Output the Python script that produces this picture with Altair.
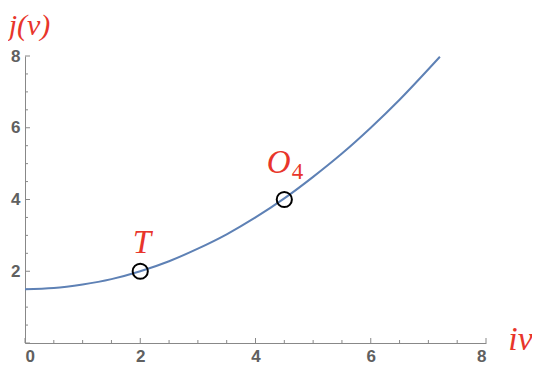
import altair as alt
import pandas as pd

# curve values
nu = [0, 0.5, 1, 1.5, 2, 2.5, 3, 3.5, 4, 4.5, 5, 5.5, 6, 6.5, 7, 7.2]
jv = [1.5, 1.53, 1.63, 1.78, 2.0, 2.28, 2.63, 3.03, 3.5, 4.03, 4.63, 5.28, 6.0, 6.78, 7.63, 7.98]

# marked points
pt_x = [2, 4.5]
pt_y = [2, 4]

# annotation labels
lab_text = ["T", "O"]
lab_x = [2.03, 4.4]
lab_y = [2.52, 4.75]
sub_text = ["4"]
sub_x = [4.73]
sub_y = [4.57]

major = [0, 2, 4, 6, 8]
minor = [0.5, 1, 1.5, 2.5, 3, 3.5, 4.5, 5, 5.5, 6.5, 7, 7.5]

W, H = 461, 287
RED = "#e8352b"
GRAY = "#888888"

xs = alt.Scale(domain=[0, 8], nice=False)
ys = alt.Scale(domain=[0, 8], nice=False)

curve_df = pd.DataFrame({"x": nu, "y": jv})
pts_df = pd.DataFrame({"x": pt_x, "y": pt_y})
lab_df = pd.DataFrame({"t": lab_text, "x": lab_x, "y": lab_y})
sub_df = pd.DataFrame({"t": sub_text, "x": sub_x, "y": sub_y})
maj_df = pd.DataFrame({"v": major})
min_df = pd.DataFrame({"v": minor})

xaxis = alt.Axis(values=major, format="d", ticks=False, grid=False, domainColor=GRAY,
                 labelColor="#606060", labelFont="Liberation Sans", labelFontWeight="bold",
                 labelFontSize=17, labelPadding=5, title="iν", titleFont="Liberation Serif",
                 titleFontStyle="italic", titleFontWeight="normal", titleFontSize=34,
                 titleColor=RED, titleX=W + 34, titleY=-4, titleAlign="center",
                 titleBaseline="middle", titleAngle=0)
yaxis = alt.Axis(values=[2, 4, 6, 8], format="d", ticks=False, grid=False, domainColor=GRAY,
                 labelColor="#606060", labelFont="Liberation Sans", labelFontWeight="bold",
                 labelFontSize=17, labelPadding=5, title="j(ν)", titleFont="Liberation Serif",
                 titleFontStyle="italic", titleFontWeight="normal", titleFontSize=30,
                 titleColor=RED, titleX=4, titleY=-31, titleAlign="center",
                 titleBaseline="middle", titleAngle=0)

curve = alt.Chart(curve_df).mark_line(color="#5e81b5", strokeWidth=2, interpolate="monotone").encode(
    x=alt.X("x:Q", scale=xs, axis=xaxis),
    y=alt.Y("y:Q", scale=ys, axis=yaxis),
)

pts = alt.Chart(pts_df).mark_point(shape="circle", size=230, filled=False, color="black",
                                   strokeWidth=2, opacity=1).encode(
    x=alt.X("x:Q", scale=xs), y=alt.Y("y:Q", scale=ys))

labs = alt.Chart(lab_df).mark_text(font="Liberation Serif", fontStyle="italic", fontSize=33,
                                   color=RED, baseline="alphabetic", align="center").encode(
    x=alt.X("x:Q", scale=xs), y=alt.Y("y:Q", scale=ys), text="t:N")

subs = alt.Chart(sub_df).mark_text(font="Liberation Serif", fontSize=23,
                                   color=RED, baseline="alphabetic", align="center").encode(
    x=alt.X("x:Q", scale=xs), y=alt.Y("y:Q", scale=ys), text="t:N")

xmaj = alt.Chart(maj_df).mark_rule(color=GRAY, strokeWidth=1).encode(
    x=alt.X("v:Q", scale=xs), y=alt.value(H), y2=alt.value(H - 5))
xmin = alt.Chart(min_df).mark_rule(color=GRAY, strokeWidth=1).encode(
    x=alt.X("v:Q", scale=xs), y=alt.value(H), y2=alt.value(H - 3))
ymaj = alt.Chart(maj_df).mark_rule(color=GRAY, strokeWidth=1).encode(
    y=alt.Y("v:Q", scale=ys), x=alt.value(0), x2=alt.value(5))
ymin = alt.Chart(min_df).mark_rule(color=GRAY, strokeWidth=1).encode(
    y=alt.Y("v:Q", scale=ys), x=alt.value(0), x2=alt.value(3))

chart = alt.layer(xmaj, xmin, ymaj, ymin, curve, pts, labs, subs).properties(
    width=W, height=H,
    autosize=alt.AutoSizeParams(type="none"),
    padding={"left": 17, "top": 48, "right": 46, "bottom": 25},
).configure_view(stroke=None)

chart.save("out.html", embed_options={"renderer": "svg", "actions": False})
